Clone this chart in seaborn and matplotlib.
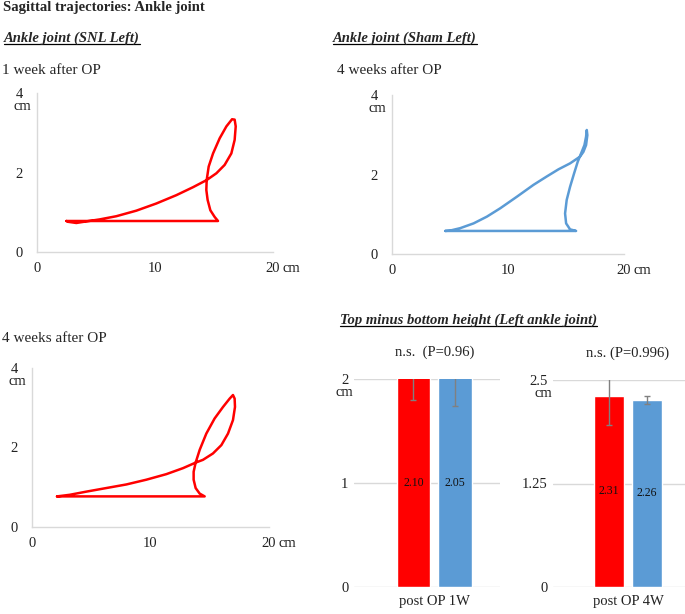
import numpy as np
import pandas as pd
import matplotlib
matplotlib.use("Agg")
import matplotlib.pyplot as plt
import seaborn as sns
from matplotlib.lines import Line2D

# trajectory data (cm), loop order
snl_1w_x = [2.49, 15.34, 15.06, 14.69, 14.46, 14.35, 14.38, 14.55, 14.92, 15.48, 16.05, 16.53, 16.75,
            16.84, 16.75, 16.47, 15.90, 15.20, 14.38, 13.22, 11.81, 10.11, 8.42, 6.72, 5.31, 4.18, 3.33, 2.63, 2.49]
snl_1w_y = [0.78, 0.78, 0.88, 1.05, 1.31, 1.56, 1.81, 2.15, 2.48, 2.86, 3.16, 3.34, 3.33,
            3.16, 2.82, 2.48, 2.19, 1.98, 1.81, 1.63, 1.43, 1.22, 1.04, 0.90, 0.82, 0.77, 0.73, 0.76, 0.78]

sham_4w_x = [4.59, 15.87, 15.35, 15.01, 14.92, 15.06, 15.35, 15.70, 16.01, 16.30, 16.59, 16.73, 16.79,
             16.84, 16.73, 16.50, 16.21, 15.35, 14.35, 13.34, 12.20, 10.76, 9.33, 8.18, 7.03, 5.88, 5.02, 4.59]
sham_4w_y = [0.58, 0.58, 0.62, 0.77, 1.02, 1.36, 1.69, 2.03, 2.32, 2.53, 2.74, 2.95, 3.12,
             2.99, 2.74, 2.57, 2.45, 2.28, 2.13, 1.95, 1.74, 1.44, 1.15, 0.94, 0.77, 0.65, 0.59, 0.58]

snl_4w_x = [2.11, 14.57, 14.15, 13.81, 13.64, 13.64, 13.81, 14.15, 14.71, 15.41, 16.12, 16.68, 16.96,
            17.10, 17.13, 16.96, 16.54, 15.98, 15.27, 14.43, 13.81, 12.74, 11.34, 9.65, 7.96, 6.27, 4.59, 3.18, 2.11]
snl_4w_y = [0.77, 0.77, 0.84, 0.98, 1.19, 1.39, 1.62, 1.94, 2.35, 2.73, 3.02, 3.23, 3.32,
            3.23, 3.02, 2.69, 2.35, 2.06, 1.85, 1.69, 1.62, 1.48, 1.33, 1.19, 1.07, 0.98, 0.89, 0.81, 0.77]

# bar data
groups = ["SNL", "Sham"]
height_1w = [2.10, 2.05]
err_1w = [0.30, 0.31]
height_4w = [2.31, 2.26]
err_4w = [0.35, 0.045]

RED = "#ff0000"
BLUE = "#5b9bd5"
GRID = "#d9d9d9"
W, H = 685, 614

sns.set_theme(style="white")
plt.rcParams["font.family"] = ["Liberation Serif", "DejaVu Serif"]

fig = plt.figure(figsize=(W / 100, H / 100), dpi=100)


def px_axes(l, r, t, b):
    return fig.add_axes([l / W, 1 - b / H, (r - l) / W, (b - t) / H])


def fig_text(x, y, s, **kw):
    return fig.text(x / W, 1 - y / H, s, va="center", ha="left", **kw)


def trajectory(ax, xs, ys, color):
    df = pd.DataFrame({"x": xs, "y": ys})
    sns.lineplot(data=df, x="x", y="y", sort=False, estimator=None, color=color, lw=1.8, ax=ax)
    ax.set_xlim(0, 20)
    ax.set_ylim(0, 4)
    ax.set_xticks([0, 10, 20])
    ax.set_yticks([0, 2, 4])
    ax.set_xlabel("")
    ax.set_ylabel("")
    for s in ["top", "right"]:
        ax.spines[s].set_visible(False)
    for s in ["left", "bottom"]:
        ax.spines[s].set_color(GRID)
        ax.spines[s].set_linewidth(1.0)
    ax.tick_params(length=0, labelsize=10.5, colors="#222222")
    ax.tick_params(axis="x", pad=7)
    ax.tick_params(axis="y", pad=10)
    ax.set_facecolor("none")
    ax.annotate("cm", xy=(0, 4), xycoords="data", xytext=(-17, -10), textcoords="offset points",
                ha="left", va="center", fontsize=10.5, color="#222222", annotation_clip=False)
    ax.annotate("cm", xy=(20, 0), xycoords="data", xytext=(7, -12), textcoords="offset points",
                ha="left", va="center", fontsize=10.5, color="#222222", annotation_clip=False)


def bars(ax, cat, heights, errs, ymax, yticks, ylabels, ns_text, xlim):
    df = pd.DataFrame({"cat": [cat] * 2, "group": groups, "val": heights})
    sns.barplot(data=df, x="cat", y="val", hue="group", palette=[RED, BLUE], width=0.8, gap=0.2,
                errorbar=None, legend=False, ax=ax, saturation=1)
    patches = sorted(ax.patches, key=lambda p: p.get_x())
    for p, h, e in zip(patches, heights, errs):
        cx = p.get_x() + p.get_width() / 2
        ax.errorbar(cx, h, yerr=e, color="#808080", lw=1.0, capsize=2.5, capthick=1.0)
        ax.text(cx, min(h, ymax) / 2, f"{h:.2f}", ha="center", va="center", fontsize=8.5, color="#111111")
    ax.set_ylim(0, ymax)
    ax.set_xlim(*xlim)
    ax.set_yticks(yticks)
    ax.set_yticklabels(ylabels)
    ax.set_xlabel("")
    ax.set_ylabel("")
    ax.grid(axis="y", color=GRID, lw=1.0)
    ax.set_axisbelow(True)
    for s in ax.spines.values():
        s.set_visible(False)
    ax.tick_params(length=0, labelsize=10.5, colors="#222222")
    ax.tick_params(axis="y", pad=4)
    ax.tick_params(axis="x", pad=6)
    ax.set_facecolor("none")
    ax.annotate("cm", xy=(0, ymax), xycoords=("axes fraction", "data"), xytext=(-13, -10),
                textcoords="offset points", ha="left", va="center", fontsize=10.5, color="#222222",
                annotation_clip=False)
    ax.annotate(ns_text, xy=(0, ymax), xycoords=("data", "data"), xytext=(0, 19),
                textcoords="offset points", ha="center", va="center", fontsize=10.5, color="#222222",
                annotation_clip=False)


ax1 = px_axes(37, 273, 93, 252)
trajectory(ax1, snl_1w_x, snl_1w_y, RED)
ax2 = px_axes(392, 624, 95, 254)
trajectory(ax2, sham_4w_x, sham_4w_y, BLUE)
ax3 = px_axes(32, 269, 368, 527)
trajectory(ax3, snl_4w_x, snl_4w_y, RED)

bx1 = px_axes(354, 500, 379, 587)
bars(bx1, "post OP 1W", height_1w, err_1w, 2, [0, 1, 2], ["0", "1", "2"], "n.s.  (P=0.96)", (-0.77, 0.63))
bx2 = px_axes(553, 685, 380, 587)
bars(bx2, "post OP 4W", height_4w, err_4w, 2.5, [0, 1.25, 2.5], ["0", "1.25", "2.5"], "n.s. (P=0.996)", (-0.79, 0.6))

fig_text(3, 8, "Sagittal trajectories: Ankle joint", fontsize=10.5, fontweight="bold")
heads = [
    fig_text(4, 38, "Ankle joint (SNL Left)", fontsize=10.5, fontweight="bold", fontstyle="italic"),
    fig_text(333, 38, "Ankle joint (Sham Left)", fontsize=10.5, fontweight="bold", fontstyle="italic"),
    fig_text(340, 320, "Top minus bottom height (Left ankle joint)", fontsize=10.5, fontweight="bold",
             fontstyle="italic"),
]
fig_text(2, 70, "1 week after OP", fontsize=11)
fig_text(337, 71, "4 weeks after OP", fontsize=11)
fig_text(2, 338, "4 weeks after OP", fontsize=11)

# underline the headings
renderer = fig.canvas.get_renderer()
for t in heads:
    bb = t.get_window_extent(renderer)
    yl = (bb.y0 + 1) / H
    fig.add_artist(Line2D([bb.x0 / W, bb.x1 / W], [yl, yl], color="black", lw=0.9))

fig.savefig("out.png", dpi=100)
